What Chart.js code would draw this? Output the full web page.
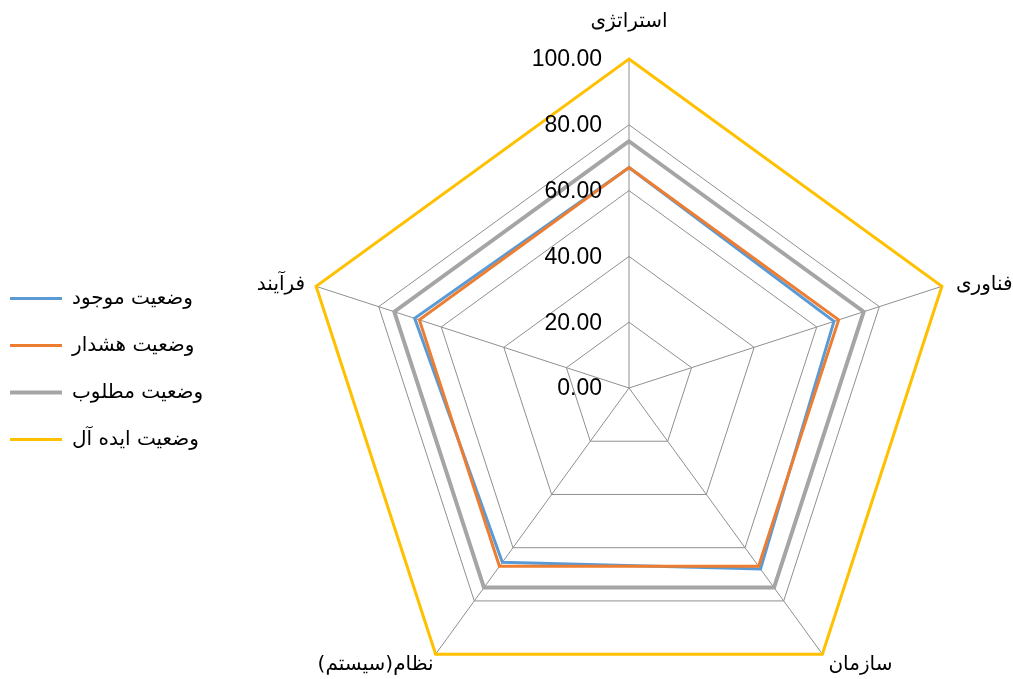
<!DOCTYPE html>
<html>
<head>
<meta charset="utf-8">
<script src="https://cdn.jsdelivr.net/npm/chart.js@4"></script>
<style>
  html, body { margin: 0; padding: 0; background: #ffffff; }
  #wrap { width: 1013px; height: 679px; }
</style>
</head>
<body>
<div id="wrap"><canvas id="radarChart"></canvas></div>
<script>
// axes of the radar (clockwise from the top)
const axisLabels = ["استراتژی", "فناوری", "سازمان", "نظام(سیستم)", "فرآیند"];

const seriesNames = ["وضعیت موجود", "وضعیت هشدار", "وضعیت مطلوب", "وضعیت ایده آل"];

// values
const currentState = [67, 65.5, 68, 65.5, 68.5];
const warningState = [67, 67, 67, 67, 67];
const desiredState = [75, 75, 75, 75, 75];
const idealState = [100, 100, 100, 100, 100];

const tickMin = 0;
const tickMax = 100;
const tickStep = 20;

// colours
const blue = "#5B9BD5";
const orange = "#ED7D31";
const gray = "#A5A5A5";
const gold = "#FFC000";
const gridColor = "#8f8f8f";

// where each axis title sits relative to the outer vertex
const labelPlace = [
  { align: "center", dx: 0, dy: -37 },
  { align: "left", dx: 14, dy: -2 },
  { align: "left", dx: 6, dy: 11 },
  { align: "right", dx: -2, dy: 11 },
  { align: "right", dx: -11, dy: -2 }
];

// tick labels left of the vertical axis + axis titles
const radarText = {
  id: "radarText",
  afterDraw(chart) {
    const scale = chart.scales.r;
    const ctx = chart.ctx;
    ctx.save();
    ctx.fillStyle = "#000000";
    ctx.textBaseline = "middle";

    ctx.font = '23px "Liberation Sans", Arial, sans-serif';
    ctx.textAlign = "right";
    scale.ticks.forEach(t => {
      const p = scale.getPointPositionForValue(0, t.value);
      ctx.fillText(t.label, p.x - 27, p.y + 1);
    });

    ctx.direction = "rtl";
    ctx.font = '20px "DejaVu Sans", sans-serif';
    axisLabels.forEach((label, i) => {
      const p = scale.getPointPositionForValue(i, scale.max);
      const s = labelPlace[i];
      ctx.textAlign = s.align;
      ctx.fillText(label, p.x + s.dx, p.y + s.dy);
    });
    ctx.restore();
  }
};

function series(name, values, color, width, order) {
  return {
    label: name,
    data: values,
    borderColor: color,
    backgroundColor: color,
    borderWidth: width,
    fill: false,
    pointRadius: 0,
    pointHoverRadius: 0,
    tension: 0,
    clip: false,
    order: order
  };
}

new Chart(document.getElementById("radarChart"), {
  type: "radar",
  data: {
    labels: axisLabels,
    datasets: [
      series(seriesNames[0], currentState, blue, 3, 1),
      series(seriesNames[1], warningState, orange, 3, 0),
      series(seriesNames[2], desiredState, gray, 4, 2),
      series(seriesNames[3], idealState, gold, 3, 3)
    ]
  },
  options: {
    responsive: true,
    maintainAspectRatio: false,
    animation: false,
    layout: { padding: { top: 59, left: -17 } },
    scales: {
      r: {
        min: tickMin,
        max: tickMax,
        ticks: {
          stepSize: tickStep,
          display: false,
          callback: v => v.toFixed(2)
        },
        grid: { color: gridColor, lineWidth: 1 },
        angleLines: { color: gridColor, lineWidth: 1 },
        pointLabels: { display: false },
        // place the web the way the original sheet does
        afterFit(scale) {
          scale.xCenter = 629;
          scale.yCenter = 388;
          scale.drawingArea = 329;
        }
      }
    },
    plugins: {
      legend: {
        position: "left",
        align: "center",
        labels: {
          usePointStyle: true,
          pointStyle: "line",
          pointStyleWidth: 52,
          padding: 27,
          color: "#000000",
          font: { size: 20, family: '"DejaVu Sans", sans-serif' },
          sort: (a, b) => a.datasetIndex - b.datasetIndex
        }
      },
      tooltip: { enabled: false }
    }
  },
  plugins: [radarText]
});
</script>
</body>
</html>
